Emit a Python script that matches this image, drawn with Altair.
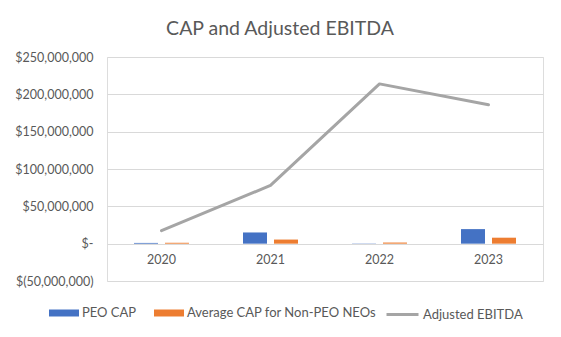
import altair as alt
import pandas as pd

years = ["2020", "2021", "2022", "2023"]
peo_cap = [1.0e6, 15.0e6, 0.3e6, 19.5e6]
avg_cap = [1.2e6, 5.5e6, 1.5e6, 8.0e6]
adj_ebitda = [17.5e6, 78.0e6, 214.0e6, 186.0e6]

bar_series = ["PEO CAP", "Average CAP for Non-PEO NEOs"]
line_series = ["Adjusted EBITDA"]
y_ticks = [-50e6, 0, 50e6, 100e6, 150e6, 200e6, 250e6]

bars = pd.DataFrame(
    [{"year": y, "series": bar_series[0], "value": v} for y, v in zip(years, peo_cap)]
    + [{"year": y, "series": bar_series[1], "value": v} for y, v in zip(years, avg_cap)]
)
line = pd.DataFrame({"year": years, "series": line_series[0], "value": adj_ebitda})

FONT = "Lato"
TXT = "#595959"

x_enc = alt.X(
    "year:N",
    scale=alt.Scale(paddingInner=0.5, paddingOuter=0.25),
    axis=alt.Axis(
        title=None, labelAngle=0, domain=False, ticks=False, tickSize=0,
        offset=-37, labelPadding=9, labelFontSize=12.5, labelColor=TXT, labelFont=FONT,
    ),
)
y_enc = alt.Y(
    "value:Q",
    scale=alt.Scale(domain=[-50e6, 250e6], nice=False, zero=False),
    axis=alt.Axis(
        title=None, values=y_ticks, domain=False, ticks=False, grid=True,
        gridColor="#D9D9D9", labelPadding=14, labelFontSize=12.5, labelColor=TXT, labelFont=FONT,
        labelExpr="datum.value == 0 ? '$-\u00a0\u00a0' : (datum.value < 0 ? '$(' + format(-datum.value, ',') + ')' : '$' + format(datum.value, ',') + '\u00a0')",
    ),
)

bar_layer = alt.Chart(bars).mark_bar(size=24).encode(
    x=x_enc,
    y=y_enc,
    xOffset=alt.XOffset("series:N", sort=bar_series, scale=alt.Scale(paddingInner=0.24, paddingOuter=0)),
    color=alt.Color(
        "series:N", sort=bar_series,
        scale=alt.Scale(domain=bar_series, range=["#4472C4", "#ED7D31"]),
        legend=alt.Legend(
            title=None, orient="none", direction="horizontal", columns=2,
            legendX=-58, legendY=241, symbolType="M-1,-0.233H1V0.233H-1Z", symbolSize=900,
            symbolStrokeWidth=0, labelFontSize=13, labelColor=TXT, labelFont=FONT,
            labelOffset=3, columnPadding=17, labelLimit=0,
        ),
    ),
)

line_layer = alt.Chart(line).mark_line(strokeWidth=3, strokeCap="round", strokeJoin="round").encode(
    x=x_enc,
    y=y_enc,
    stroke=alt.Stroke(
        "series:N",
        scale=alt.Scale(domain=line_series, range=["#A5A5A5"]),
        legend=alt.Legend(
            title=None, orient="none", direction="horizontal",
            legendX=278, legendY=240, symbolType="stroke", symbolSize=1024,
            symbolStrokeWidth=3, labelFontSize=13, labelColor=TXT, labelFont=FONT,
            labelOffset=3, labelLimit=0,
        ),
    ),
)

chart = (
    alt.layer(bar_layer, line_layer)
    .properties(
        width=436,
        height=224,
        autosize=alt.AutoSizeParams(type="none"),
        padding={"left": 107, "top": 57, "right": 18, "bottom": 56},
        title=alt.TitleParams(
            "CAP and Adjusted EBITDA", anchor="middle", dx=-45, offset=12,
            fontSize=19.5, fontWeight="normal", color=TXT, font=FONT,
        ),
    )
    .configure_view(stroke=None)
    .configure(background="white")
)

chart.save("out.html", embed_options={"renderer": "svg", "actions": False})
